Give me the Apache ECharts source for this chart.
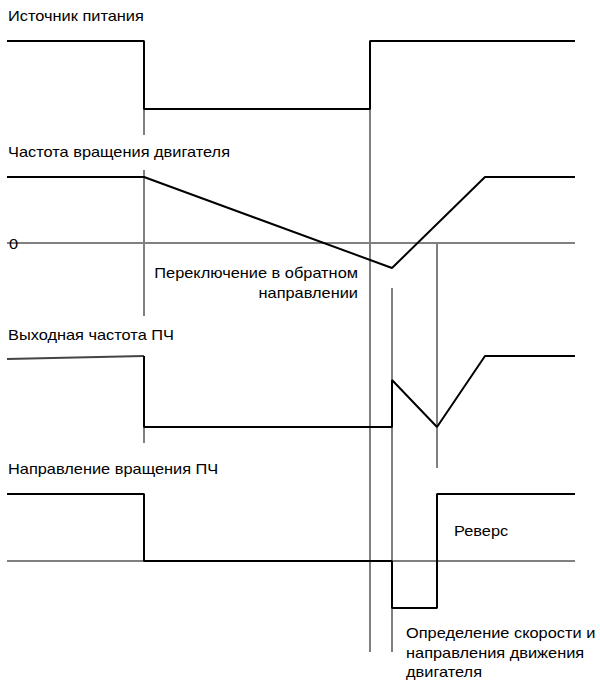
<!DOCTYPE html>
<html>
<head>
<meta charset="utf-8">
<script src="https://cdn.jsdelivr.net/npm/echarts@6/dist/echarts.min.js"></script>
<style>
  html, body { margin: 0; padding: 0; background: #fff; }
  #chart { width: 600px; height: 681px; }
</style>
</head>
<body>
<div id="chart"></div>
<script>
// time marks (x) and signal levels (y, diagram units, top = 0)
var tStart = 7, tStop = 144, tRestart = 370, tDetect = 392, tReverse = 437, tReach = 485, tEnd = 575;

// Источник питания
var power = [[tStart, 41], [tStop, 41], [tStop, 109], [tRestart, 109], [tRestart, 41], [tEnd, 41]];
// Частота вращения двигателя
var speedZero = [[tStart, 243], [tEnd, 243]];
var speed = [[tStart, 177], [tStop, 177], [tDetect, 268], [tReach, 177], [tEnd, 177]];
// Выходная частота ПЧ
var outFreqLead = [[tStart, 359], [tStop, 356]];
var outFreq = [[tStop, 356], [tStop, 427], [tDetect, 427], [tDetect, 380], [tReverse, 427], [tReach, 356], [tEnd, 356]];
// Направление вращения ПЧ
var dirZero = [[tStart, 561], [tEnd, 561]];
var direction = [[tStart, 494], [tStop, 494], [tStop, 561], [tDetect, 561], [tDetect, 608], [tReverse, 608], [tReverse, 494], [tEnd, 494]];

// vertical marker lines: [x, yFrom, yTo]
var markers = [
  [tStop, 109, 135], [tStop, 170, 316], [tStop, 356, 443],
  [tRestart, 109, 652],
  [tDetect, 288, 652],
  [tReverse, 243, 468]
];

var labels = [
  { text: 'Источник питания', x: 8, y: 16, align: 'left' },
  { text: 'Частота вращения двигателя', x: 8, y: 152, align: 'left' },
  { text: 'Переключение в обратном', x: 358, y: 273, align: 'right' },
  { text: 'направлении', x: 358, y: 293, align: 'right' },
  { text: 'Выходная частота ПЧ', x: 8, y: 335, align: 'left' },
  { text: 'Направление вращения ПЧ', x: 8, y: 469, align: 'left' },
  { text: 'Реверс', x: 454, y: 531, align: 'left' },
  { text: 'Определение скорости и', x: 406, y: 633, align: 'left' },
  { text: 'направления движения', x: 406, y: 653, align: 'left' },
  { text: 'двигателя', x: 406, y: 672, align: 'left' },
  { text: '0', x: 9, y: 244, align: 'left' }
];

var GRAY = '#808080';
var BLACK = '#000000';
var FONT = '14px "Liberation Sans", Arial, sans-serif';
var TEXT_STRETCH = 1.17; // source text is a bit wider than Arial

function lineSeries(data, color, z) {
  return {
    type: 'line',
    data: data,
    symbol: 'none',
    silent: true,
    z: z,
    lineStyle: { color: color, width: 2 }
  };
}

var series = [];
markers.forEach(function (m) {
  series.push(lineSeries([[m[0], m[1]], [m[0], m[2]]], GRAY, 1));
});
series.push(lineSeries(speedZero, GRAY, 1));
series.push(lineSeries(dirZero, GRAY, 1));
series.push(lineSeries(outFreqLead, '#444444', 2));
series.push(lineSeries(power, BLACK, 3));
series.push(lineSeries(speed, BLACK, 3));
series.push(lineSeries(outFreq, BLACK, 3));
series.push(lineSeries(direction, BLACK, 3));

var chart = echarts.init(document.getElementById('chart'), null, { renderer: 'svg' });
chart.setOption({
  animation: false,
  backgroundColor: '#ffffff',
  grid: { left: 0, right: 0, top: 0, bottom: 0 },
  xAxis: { type: 'value', min: 0, max: 600, show: false },
  yAxis: { type: 'value', min: 0, max: 681, inverse: true, show: false },
  graphic: labels.map(function (l) {
    return {
      type: 'text',
      x: l.x,
      y: l.y,
      scaleX: TEXT_STRETCH,
      z: 10,
      style: {
        text: l.text,
        font: FONT,
        fill: '#000',
        textAlign: l.align,
        textVerticalAlign: 'middle'
      }
    };
  }),
  series: series
});
</script>
</body>
</html>
